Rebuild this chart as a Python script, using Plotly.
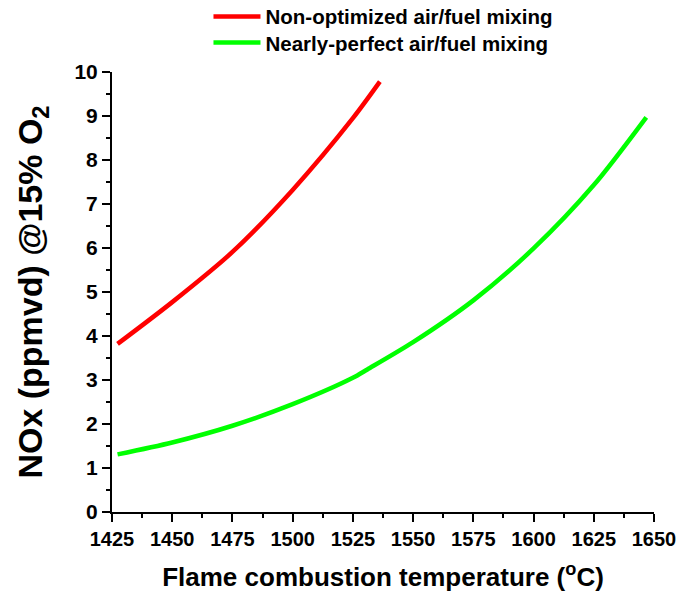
import plotly.graph_objects as go

# Data
red_temp = [1427.3, 1450, 1475, 1500, 1525, 1536.2]
red_nox = [3.82, 4.77, 5.91, 7.32, 8.95, 9.78]

green_temp = [1427.3, 1450, 1475, 1500, 1525, 1531, 1550, 1575, 1600, 1625, 1646.8]
green_nox = [1.31, 1.58, 1.96, 2.45, 3.05, 3.24, 3.86, 4.81, 5.99, 7.43, 8.97]

series_names = ["Non-optimized air/fuel mixing", "Nearly-perfect air/fuel mixing"]
x_ticks = [1425, 1450, 1475, 1500, 1525, 1550, 1575, 1600, 1625, 1650]
y_ticks = [0, 1, 2, 3, 4, 5, 6, 7, 8, 9, 10]

FONT = "Liberation Sans, Arial, sans-serif"

fig = go.Figure()
fig.add_trace(go.Scatter(x=red_temp, y=red_nox, mode="lines", name=series_names[0],
                         legend="legend",
                         line=dict(color="#ff0000", width=4.5, shape="spline", smoothing=0.8)))
fig.add_trace(go.Scatter(x=green_temp, y=green_nox, mode="lines", name=series_names[1],
                         legend="legend2",
                         line=dict(color="#00ff00", width=4.5, shape="spline", smoothing=0.8)))

axis_common = dict(
    showline=True, linecolor="black", linewidth=2, mirror=False,
    ticks="outside", ticklen=8, tickwidth=2, tickcolor="black",
    showgrid=False, zeroline=False, automargin=False,
    ticklabeloverflow="allow",
)

fig.update_xaxes(
    range=[1425, 1650], tickvals=x_ticks, ticktext=[str(v) for v in x_ticks],
    minor=dict(ticks="outside", ticklen=4, tickwidth=2, tickcolor="black", dtick=12.5, tick0=1425),
    tickfont=dict(family=FONT, size=20, color="black", weight="bold"),
    title=dict(text="<b>Flame combustion temperature (<sup>o</sup>C)</b>",
               font=dict(family=FONT, size=26, color="black"), standoff=20),
    **axis_common,
)
fig.update_yaxes(
    range=[0, 10], tickvals=y_ticks, ticktext=[str(v) for v in y_ticks],
    minor=dict(ticks="outside", ticklen=4, tickwidth=2, tickcolor="black", dtick=0.5, tick0=0),
    tickfont=dict(family=FONT, size=21, color="black", weight="bold"),
    title=dict(text="<b>NOx (ppmvd) @15% O<sub>2</sub></b>",
               font=dict(family=FONT, size=34, color="black"), standoff=22),
    **axis_common,
)

legend_common = dict(
    xanchor="left", yanchor="middle", itemwidth=47,
    font=dict(family=FONT, size=20.5, color="black", weight="bold"),
    bgcolor="rgba(0,0,0,0)",
)

fig.update_layout(
    width=679, height=592,
    margin=dict(l=112, r=25, t=72, b=80, autoexpand=False),
    paper_bgcolor="white", plot_bgcolor="white",
    showlegend=True,
    legend=dict(x=0.178, y=1.126, **legend_common),
    legend2=dict(x=0.178, y=1.0666, **legend_common),
)

fig.write_html("out.html")
